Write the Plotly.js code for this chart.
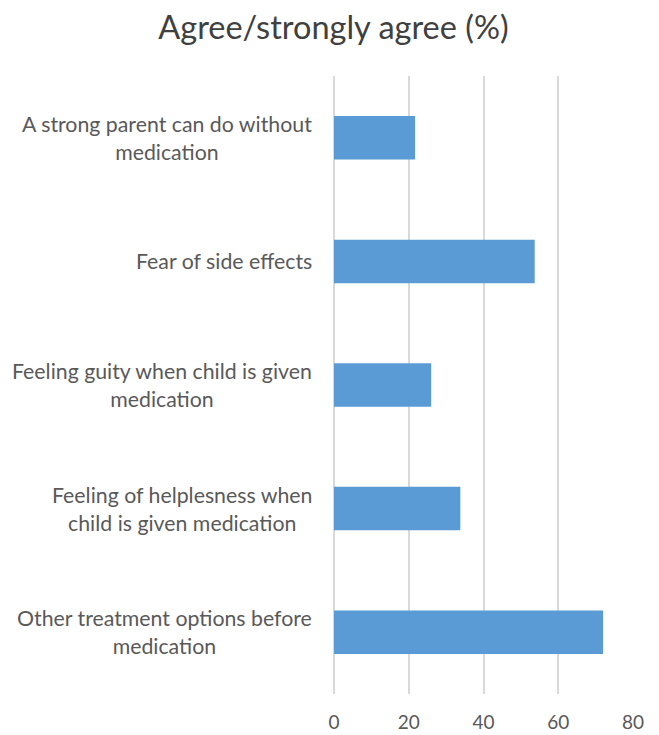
<!DOCTYPE html>
<html>
<head>
<meta charset="utf-8">
<script src="https://cdn.plot.ly/plotly-3.0.1.min.js"></script>
<style>html,body{margin:0;padding:0;background:#fff;}#chart{width:659px;height:735px;}</style>
</head>
<body>
<div id="chart"></div>
<script>
const categories = [
  "A strong parent can do without<br>medication",
  "Fear of side effects",
  "Feeling guity when child is given<br>medication",
  "Feeling of helplesness when<br>child is given medication",
  "Other treatment options before<br>medication"
];
const values = [21.7, 53.7, 26.0, 33.8, 72.0];
const xTicks = [0, 20, 40, 60, 80];
const chartTitle = "Agree/strongly agree (%)";

const FONT = "Lato, 'Open Sans', sans-serif";

const trace = {
  type: "bar",
  orientation: "h",
  x: values,
  y: categories,
  marker: {color: "#5B9BD5"},
  hoverinfo: "x+y"
};

const labelAnnotations = categories.map(c => ({
  text: c,
  xref: "paper",
  yref: "y",
  x: 0,
  y: c,
  xanchor: "right",
  yanchor: "middle",
  xshift: -20,
  align: "center",
  showarrow: false,
  font: {family: FONT, size: 21.3, color: "#595959"}
}));

const layout = {
  width: 659,
  height: 735,
  margin: {l: 333.5, r: 25.7, t: 76, b: 40.5, pad: 0},
  paper_bgcolor: "#ffffff",
  plot_bgcolor: "#ffffff",
  showlegend: false,
  bargap: 0.648,
  title: {
    text: chartTitle,
    font: {family: FONT, size: 32.5, color: "#404040"},
    x: 0.506, xref: "container", xanchor: "center",
    y: 0.962, yref: "container", yanchor: "middle"
  },
  xaxis: {
    range: [0, 80],
    tickvals: xTicks,
    ticktext: xTicks.map(String),
    showgrid: true,
    gridcolor: "#D9D9D9",
    gridwidth: 2,
    zeroline: true,
    zerolinecolor: "#D9D9D9",
    zerolinewidth: 2,
    showline: false,
    ticks: "",
    ticklabelstandoff: 15,
    tickfont: {family: FONT, size: 19, color: "#595959"}
  },
  yaxis: {
    autorange: "reversed",
    showgrid: false,
    zeroline: false,
    showline: false,
    ticks: "",
    showticklabels: false
  },
  annotations: labelAnnotations
};

Plotly.newPlot("chart", [trace], layout, {displayModeBar: false, staticPlot: true});
</script>
</body>
</html>
